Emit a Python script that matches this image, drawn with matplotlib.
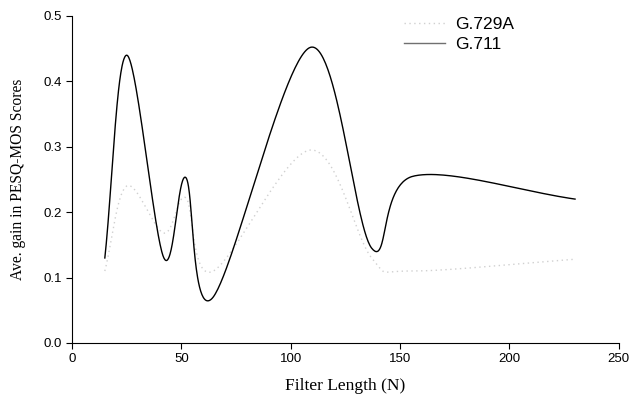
import numpy as np
import matplotlib
matplotlib.use("Agg")
import matplotlib.pyplot as plt

# Data
x_g729a = [15, 25, 42, 52, 64, 109, 137, 155, 230]
y_g729a = [0.11, 0.24, 0.168, 0.222, 0.109, 0.295, 0.13, 0.11, 0.128]

x_g711 = [15, 25, 42, 52, 64, 109, 137, 156, 230]
y_g711 = [0.13, 0.44, 0.13, 0.253, 0.068, 0.452, 0.145, 0.255, 0.22]

xticks = [0, 50, 100, 150, 200, 250]
yticks = [0.0, 0.1, 0.2, 0.3, 0.4, 0.5]


def smooth(xs, ys, n=60):
    """Parametric Catmull-Rom smoothing (like a 'smoothed line' chart)."""
    p = np.column_stack([xs, ys]).astype(float)
    p = np.vstack([2 * p[0] - p[1], p, 2 * p[-1] - p[-2]])
    out = []
    t = np.linspace(0, 1, n)[:, None]
    for i in range(1, len(p) - 2):
        p0, p1, p2, p3 = p[i - 1], p[i], p[i + 1], p[i + 2]
        seg = 0.5 * ((2 * p1) + (-p0 + p2) * t + (2 * p0 - 5 * p1 + 4 * p2 - p3) * t ** 2
                     + (-p0 + 3 * p1 - 3 * p2 + p3) * t ** 3)
        out.append(seg if i == 1 else seg[1:])
    out = np.vstack(out)
    return out[:, 0], out[:, 1]


fig = plt.figure(figsize=(6.34, 3.99), dpi=100)
ax = fig.add_axes([0.1136, 0.1404, 0.8624, 0.8196])

sx, sy = smooth(x_g729a, y_g729a)
ax.plot(sx, sy, color="#d0d0d0", lw=1.0, ls=(0, (1, 2.5)), label="G.729A")
sx, sy = smooth(x_g711, y_g711)
ax.plot(sx, sy, color="black", lw=1.0, label="G.711")

ax.set_xlim(0, 250)
ax.set_ylim(0, 0.5)
ax.set_xticks(xticks)
ax.set_yticks(yticks)
ax.set_yticklabels([f"{v:.1f}" for v in yticks])
for s in ["top", "right"]:
    ax.spines[s].set_visible(False)
ax.spines["left"].set_linewidth(0.8)
ax.spines["bottom"].set_linewidth(0.8)
ax.tick_params(direction="out", length=4, width=0.8, labelsize=9.5)
for lab in ax.get_xticklabels() + ax.get_yticklabels():
    lab.set_fontfamily("Liberation Sans")

ax.set_xlabel("Filter Length (N)", fontfamily="Liberation Serif", fontsize=12.5, labelpad=9)
ax.set_ylabel("Ave. gain in PESQ-MOS Scores", fontfamily="Liberation Serif", fontsize=11.2, labelpad=12)

leg = ax.legend(loc="upper left", bbox_to_anchor=(0.578, 1.045), frameon=False,
                prop={"family": "Liberation Sans", "size": 12.5},
                handlelength=2.4, handletextpad=0.57, labelspacing=0.3)
leg.get_lines()[1].set_color("#707070")

fig.savefig("out.png", dpi=100)
